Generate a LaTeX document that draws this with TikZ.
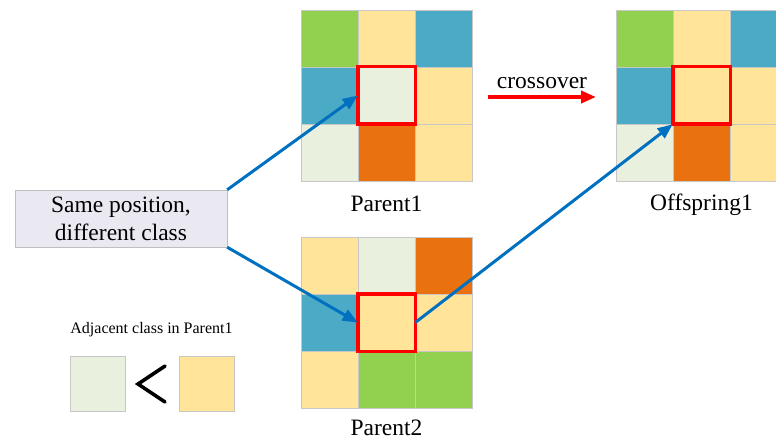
\documentclass[tikz,border=0pt]{standalone}
\usepackage{fontspec}
\setmainfont{Liberation Serif}
\usetikzlibrary{arrows.meta, positioning}
\definecolor{cgreen}{RGB}{146, 208, 80}
\definecolor{cyellow}{RGB}{255, 228, 153}
\definecolor{cblue}{RGB}{75, 170, 198}
\definecolor{corange}{RGB}{233, 113, 16}
\definecolor{cpale}{RGB}{234, 240, 222}
\definecolor{linkblue}{RGB}{0, 112, 192}
\definecolor{notefill}{RGB}{234, 232, 241}

% one 3x3 class map: name, top-left x, top-left y, nine colours row by row
\newcommand{\classgrid}[4]{%
    \foreach \clr [count=\k from 0] in {#4} {
        \pgfmathtruncatemacro{\gr}{div(\k,3)}
        \pgfmathtruncatemacro{\gc}{mod(\k,3)}
        \node[cell, fill=\clr] (#1-\gr\gc) at ({#2+28.5+57*\gc}, {#3+28.5+57*\gr}) {};
    }%
}

\begin{document}
\begin{tikzpicture}[x=1pt, y=-1pt,
        cell/.style={rectangle, draw=black!22, line width=0.6pt, inner sep=0pt, minimum size=57pt},
        pick/.style={draw=red, line width=3.6pt},
        lbl/.style={inner sep=0pt, text=black, font=\fontsize{23.5}{27}\selectfont},
        link/.style={-{Triangle[length=15pt, width=12pt]}, linkblue, line width=3pt},
        xarr/.style={-{Triangle[length=15pt, width=12pt]}, red, line width=4pt}
    ]
        \useasboundingbox (0,0) rectangle (776,441);
        \clip (0,0) rectangle (776,441);

        % Parent1
        \classgrid{p1}{301}{10}{cgreen, cyellow, cblue, cblue, cpale, cyellow, cpale, corange, cyellow}
        \draw[pick] (p1-11.north west) rectangle (p1-11.south east);
        \node[lbl, below=14pt of p1-21] (p1lbl) {Parent1};

        % Parent2
        \classgrid{p2}{301}{237}{cyellow, cpale, corange, cblue, cyellow, cyellow, cyellow, cgreen, cgreen}
        \draw[pick] (p2-11.north west) rectangle (p2-11.south east);
        \node[lbl, below=11pt of p2-21] (p2lbl) {Parent2};

        % Offspring1
        \classgrid{o1}{616}{10}{cgreen, cyellow, cblue, cblue, cyellow, cyellow, cpale, corange, cyellow}
        \draw[pick] (o1-11.north west) rectangle (o1-11.south east);
        \node[lbl, below=12pt of o1-21] (o1lbl) {Offspring1};

        % crossover
        \coordinate (xs) at (488, 97);
        \coordinate (xe) at (596, 97);
        \draw[xarr] (xs) -- node[lbl, above=6pt] {crossover} (xe);

        % note box
        \node[rectangle, draw=black!25, fill=notefill, minimum width=212pt, minimum height=57pt,
              inner sep=0pt, align=center, font=\fontsize{23.5}{28}\selectfont] (note) at (121, 218.5)
              {Same position,\\different class};
        \draw[link] (note.north east) -- (p1-11.west);
        \draw[link] (note.south east) -- (p2-11.west);
        \draw[link] (p2-11.east) -- (o1-11.south west);

        % legend
        \node[inner sep=0pt, font=\fontsize{16}{19}\selectfont] (adj) at (151.5, 330) {Adjacent class in Parent1};
        \node[cell, fill=cpale, minimum size=55pt] (lo) at (98, 384) {};
        \node[cell, fill=cyellow, minimum size=55pt] (hi) at (206.5, 384) {};
        \draw[line width=3.6pt, line cap=round] (165, 366) -- (138, 384) -- (165, 402);
\end{tikzpicture}
\end{document}
